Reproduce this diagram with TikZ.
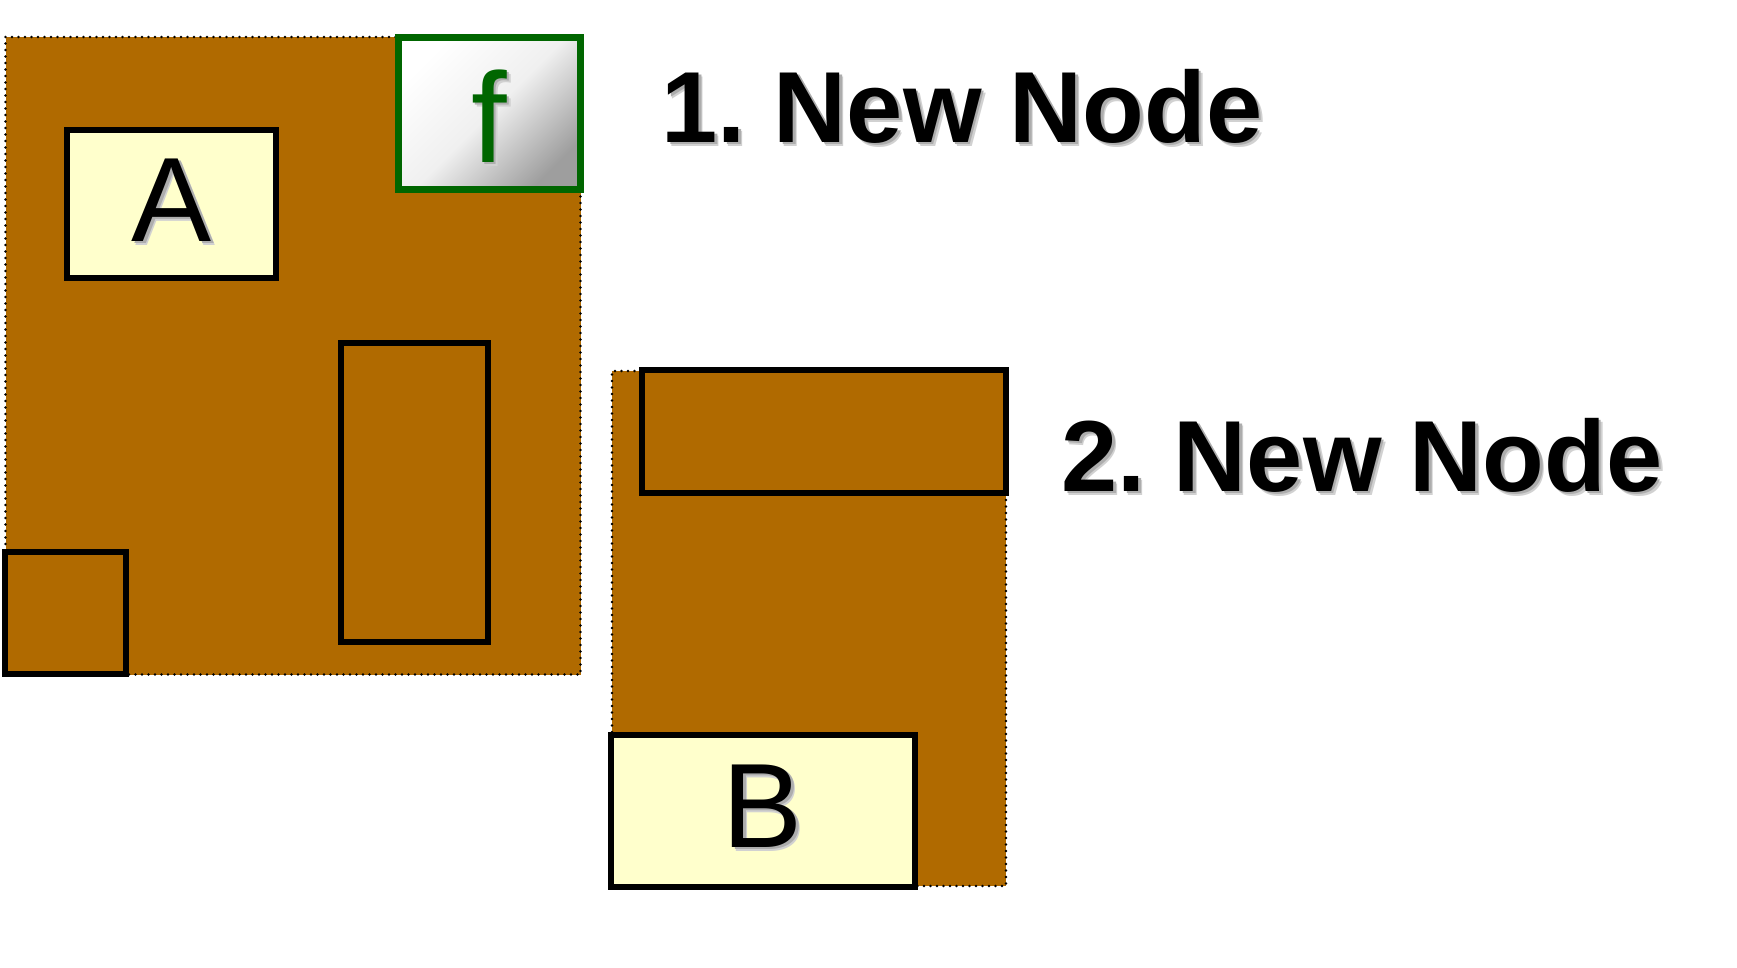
\documentclass[tikz,border=0pt]{standalone}
\usepackage{fontspec}
\setmainfont{Liberation Sans}
\frenchspacing
\definecolor{panelbrown}{RGB}{176,106,0}
\definecolor{cream}{RGB}{255,255,204}
\definecolor{fgreen}{RGB}{0,102,0}
\newcommand{\shadowed}[2][black]{\leavevmode\rlap{\kern4pt\raisebox{-4pt}{\color{black!18}#2}}\rlap{\kern2.5pt\raisebox{-2.5pt}{\color{black!32}#2}}{\color{#1}#2}}
\tikzset{
  panel/.style={rectangle, inner sep=0pt, fill=panelbrown, draw=black, line width=2.6pt, dash pattern=on 0pt off 6.5pt, line cap=round},
  blackbox/.style={rectangle, inner sep=0pt, draw=black, line width=6pt},
  labelbox/.style={blackbox, fill=cream},
  emptybox/.style={blackbox, fill=panelbrown},
  fbox/.style={rectangle, inner sep=0pt, draw=fgreen, line width=7pt, top color=white, bottom color=black!38, middle color=black!6, shading angle=45},
  bigletter/.style={inner sep=0pt, anchor=base, font=\fontsize{120}{130}\selectfont},
  heading/.style={inner sep=0pt, anchor=base, font=\fontsize{101}{113}\selectfont\bfseries},
}
\begin{document}
\begin{tikzpicture}[x=1pt, y=-1pt]
\useasboundingbox[fill=white] (0,0) rectangle (1737,967);
% panel 1
\node[panel, minimum width=575pt, minimum height=637.5pt] (panelone) at (293,355.75) {};
\node[labelbox, minimum width=209pt, minimum height=148pt] (boxA) at (171.7,204.4) {};
\node[bigletter] (letterA) at (172,241) {\shadowed{A}};
\node[emptybox, minimum width=147pt, minimum height=298.6pt] (tallbox) at (414.3,492.4) {};
\node[emptybox, minimum width=121pt, minimum height=122pt] (smallbox) at (65.5,613) {};
\node[fbox, minimum width=182pt, minimum height=152pt] (boxf) at (489.5,113.5) {};
\node[bigletter, font=\fontsize{128}{138}\selectfont] (letterf) at (489,162) {\shadowed[fgreen]{f}};
% panel 2
\node[panel, minimum width=394pt, minimum height=515pt] (paneltwo) at (809,628.5) {};
\node[emptybox, minimum width=364pt, minimum height=123pt] (widebox) at (824,431.5) {};
\node[labelbox, minimum width=304pt, minimum height=152pt] (boxB) at (763,811) {};
\node[bigletter] (letterB) at (763,847) {\shadowed{B}};
% headings
\node[heading] (headone) at (962,142) {\shadowed{1. New Node}};
\node[heading] (headtwo) at (1362,491) {\shadowed{2. New Node}};
\end{tikzpicture}
\end{document}
